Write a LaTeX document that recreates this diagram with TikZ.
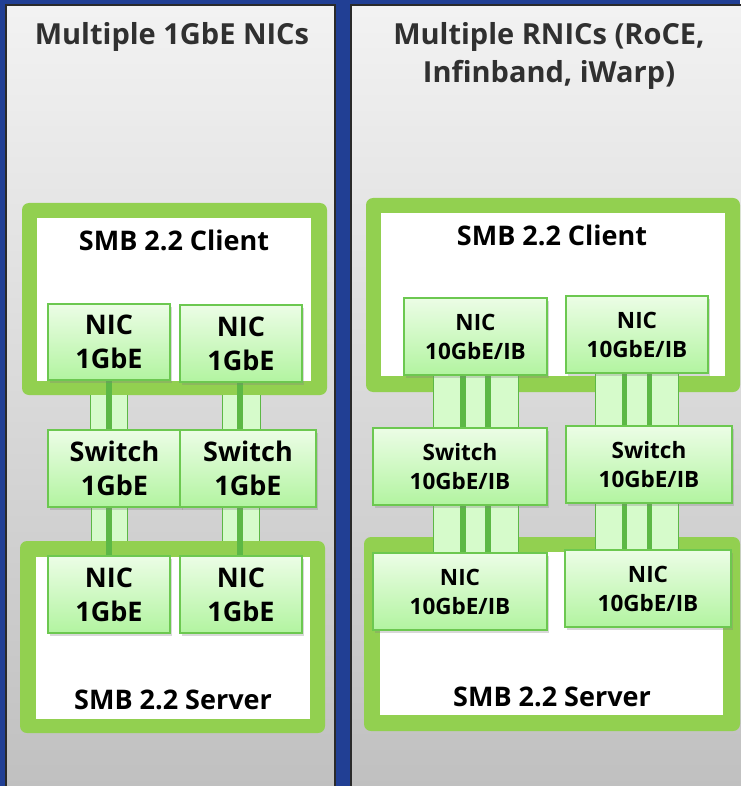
\documentclass[tikz,border=0pt]{standalone}
\usepackage{fontspec}
\setmainfont{Open Sans}
\usetikzlibrary{shadows}
\definecolor{bgblue}{HTML}{213F94}
\definecolor{panelline}{HTML}{2A2A2A}
\definecolor{hostgreen}{HTML}{92D050}
\definecolor{boxline}{HTML}{6CC850}
\definecolor{boxtop}{HTML}{ECFDE6}
\definecolor{boxbot}{HTML}{B2F4A0}
\definecolor{linkfill}{HTML}{D6FBCB}
\definecolor{linkline}{HTML}{5CB845}
\definecolor{titlegray}{HTML}{303030}
\pgfdeclarelayer{back}
\pgfdeclarelayer{mid}
\pgfsetlayers{back,mid,main}
\tikzset{
  panel/.style={draw=panelline, line width=1.2pt, top color=gray!10, bottom color=gray!50},
  hostouter/.style={fill=hostgreen, rounded corners=7pt, inner sep=0pt},
  hostinner/.style={fill=white, inner sep=0pt},
  hostlabel/.style={font=\bfseries\fontsize{27}{30}\selectfont, text=black},
  title/.style={font=\bfseries\fontsize{29}{38}\selectfont, text=titlegray, align=center},
  card/.style={draw=boxline, line width=1.2pt, top color=boxtop, bottom color=boxbot,
    inner sep=0pt, align=center, text=black,
    drop shadow={shadow xshift=2pt, shadow yshift=-2.5pt, opacity=0.3}},
  bigcard/.style={card, font=\bfseries\fontsize{27}{34}\selectfont},
  smallcard/.style={card, font=\bfseries\fontsize{22.5}{29}\selectfont},
  band/.style={draw=linkline, line width=1pt, double=linkfill, double distance=#1, line cap=butt},
  wire/.style={draw=linkline, line width=5.5pt, line cap=butt},
}
\begin{document}
\begin{tikzpicture}[x=1pt,y=-1pt]
\useasboundingbox (0,0) rectangle (740,786);

% network cards and switches
\node[bigcard, minimum width=122, minimum height=76] (ln1) at (109,342) {NIC\\1GbE};
\node[bigcard, minimum width=122, minimum height=77] (ln2) at (241,343.5) {NIC\\1GbE};
\node[bigcard, minimum width=133, minimum height=77] (ls1) at (114.5,468.5) {Switch\\1GbE};
\node[bigcard, minimum width=136, minimum height=77] (ls2) at (248,468.5) {Switch\\1GbE};
\node[bigcard, minimum width=122, minimum height=77] (ln3) at (109,594.5) {NIC\\1GbE};
\node[bigcard, minimum width=122, minimum height=77] (ln4) at (241,594.5) {NIC\\1GbE};

\node[smallcard, minimum width=143, minimum height=77] (rn1) at (475.5,336.5) {NIC\\10GbE/IB};
\node[smallcard, minimum width=142, minimum height=77] (rn2) at (637,334.5) {NIC\\10GbE/IB};
\node[smallcard, minimum width=174, minimum height=77] (rs1) at (460,466.5) {Switch\\10GbE/IB};
\node[smallcard, minimum width=166, minimum height=77] (rs2) at (649,464.5) {Switch\\10GbE/IB};
\node[smallcard, minimum width=174, minimum height=77] (rn3) at (460,591.5) {NIC\\10GbE/IB};
\node[smallcard, minimum width=166, minimum height=77] (rn4) at (648,588.5) {NIC\\10GbE/IB};

\begin{pgfonlayer}{back}
  % blue backdrop and the two grey panels
  \fill[bgblue] (0,0) rectangle (740,786);
  \draw[panel] (6,5) rectangle (335,800);
  \draw[panel] (351,5) rectangle (760,800);
  \node[title] (t1) at (172,37) {Multiple 1GbE NICs};
  \node[title] (t2) at (549,56) {Multiple RNICs (RoCE,\\Infinband, iWarp)};

  % lower-left links run behind the server frame
  \draw[band=35pt] (ln3.north |- ls1.south) -- (ln3.north);
  \draw[band=36pt] (ln4.north |- ls2.south) -- (ln4.north);

  % hosts
  \node[hostouter, minimum width=305, minimum height=192] (lc) at (174.5,299) {};
  \node[hostinner, minimum width=274, minimum height=163] (lci) at (174,299.5) {};
  \node[hostlabel] (lcl) at (174,240) {SMB 2.2 Client};
  \node[hostouter, minimum width=305, minimum height=192] (lsv) at (172.5,637) {};
  \node[hostinner, minimum width=274, minimum height=162] (lsvi) at (173,638) {};
  \node[hostlabel] (lsvl) at (173,700) {SMB 2.2 Server};

  \node[hostouter, minimum width=374, minimum height=194] (rc) at (553,295) {};
  \node[hostinner, minimum width=344, minimum height=163] (rci) at (553,294.5) {};
  \node[hostlabel] (rcl) at (552,235) {SMB 2.2 Client};
  \node[hostouter, minimum width=376, minimum height=194] (rsv) at (552,634) {};
  \node[hostinner, minimum width=343, minimum height=163] (rsvi) at (551.5,633.5) {};
  \node[hostlabel] (rsvl) at (552,697) {SMB 2.2 Server};
\end{pgfonlayer}

\begin{pgfonlayer}{mid}
  % left column: one cable per link
  \draw[band=36pt] (ln1.south |- lc.south) -- (ln1.south |- ls1.north);
  \draw[band=37pt] (ln2.south |- lc.south) -- (ln2.south |- ls2.north);
  \draw[wire] (ln1.south) -- (ln1.south |- ls1.north);
  \draw[wire] ([xshift=-1pt]ln2.south) -- ([xshift=-1pt]ln2.south |- ls2.north);
  \draw[wire] (ln3.north |- ls1.south) -- (ln3.north);
  \draw[wire] ([xshift=-1pt]ln4.north |- ls2.south) -- ([xshift=-1pt]ln4.north);

  % right column: three lanes per link
  \draw[band=84pt] (rn1.south) -- (rn1.south |- rs1.north);
  \draw[band=82pt] (rn2.south) -- (rn2.south |- rs2.north);
  \draw[band=84pt] (rn1.south |- rs1.south) -- (rn1.south |- rn3.north);
  \draw[band=82pt] (rn2.south |- rs2.south) -- (rn2.south |- rn4.north);
  \begin{scope}[transform canvas={xshift=-12.5pt}]
    \draw[wire] (rn1.south) -- (rn1.south |- rs1.north);
    \draw[wire] (rn2.south) -- (rn2.south |- rs2.north);
    \draw[wire] (rn1.south |- rs1.south) -- (rn1.south |- rn3.north);
    \draw[wire] (rn2.south |- rs2.south) -- (rn2.south |- rn4.north);
  \end{scope}
  \begin{scope}[transform canvas={xshift=12.5pt}]
    \draw[wire] (rn1.south) -- (rn1.south |- rs1.north);
    \draw[wire] (rn2.south) -- (rn2.south |- rs2.north);
    \draw[wire] (rn1.south |- rs1.south) -- (rn1.south |- rn3.north);
    \draw[wire] (rn2.south |- rs2.south) -- (rn2.south |- rn4.north);
  \end{scope}
\end{pgfonlayer}
\end{tikzpicture}
\end{document}
